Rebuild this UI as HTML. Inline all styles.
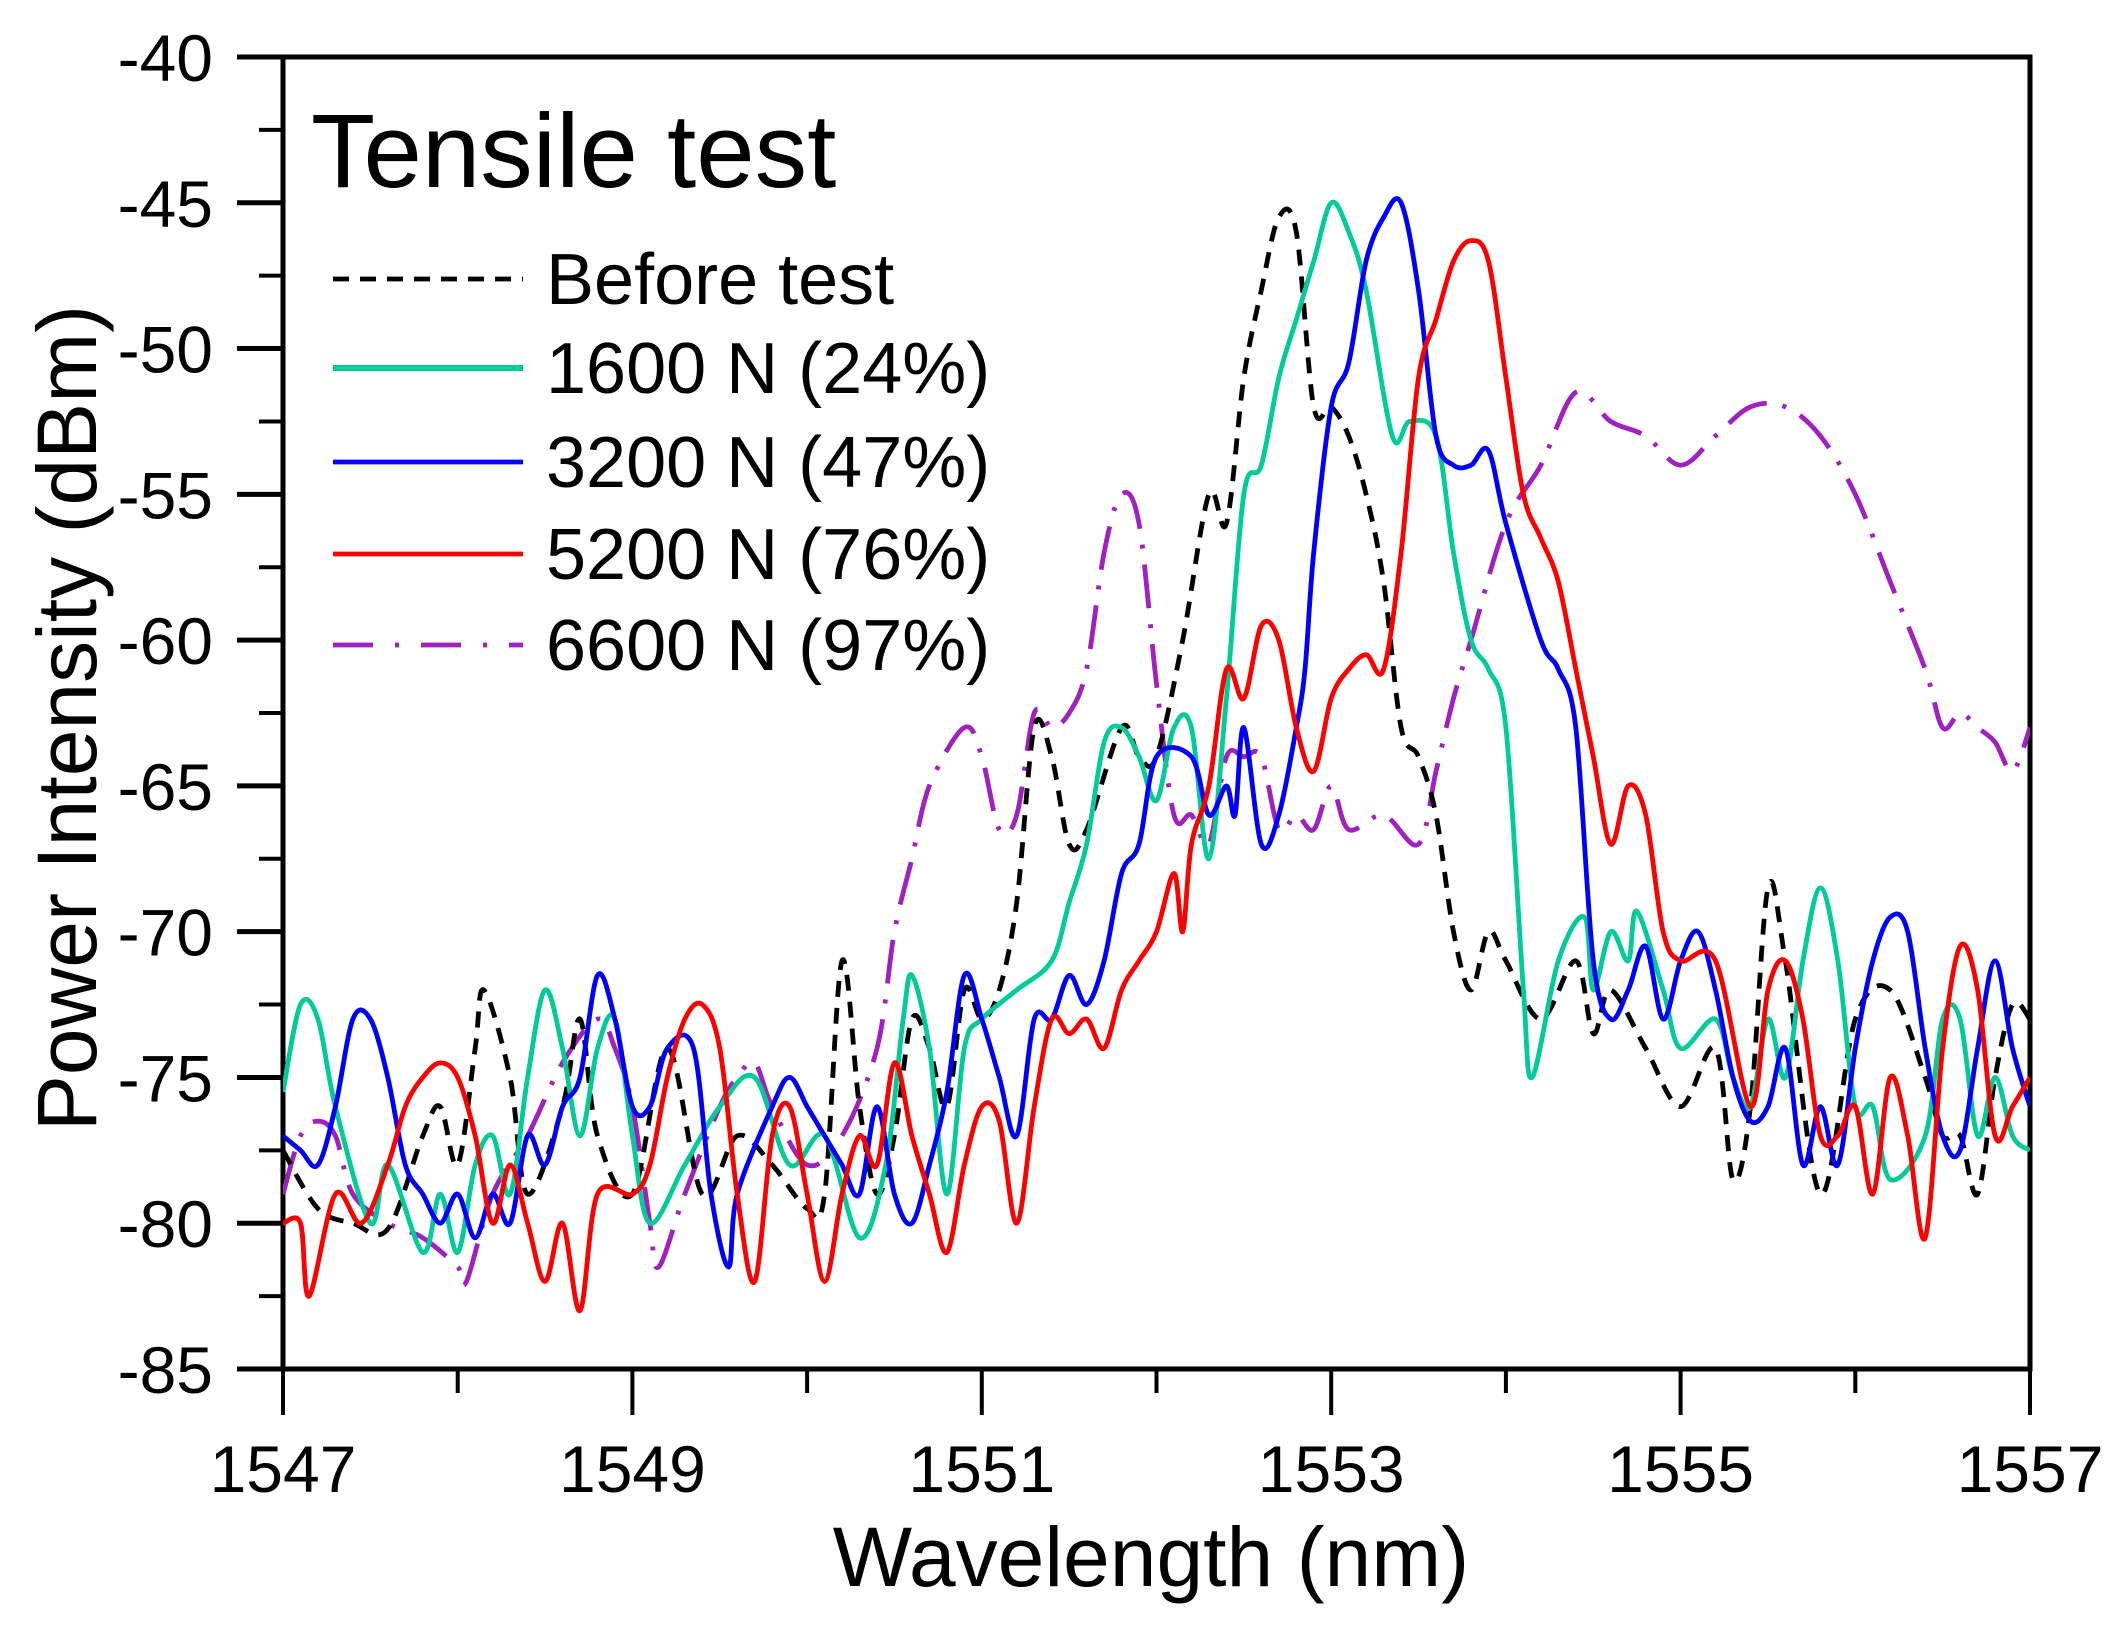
<!DOCTYPE html>
<html><head><meta charset="utf-8"><style>
html,body{margin:0;padding:0;background:#fff}
svg{display:block}
text{font-family:"Liberation Sans",Arial,sans-serif;fill:#000}
</style></head><body>
<svg id="chart" width="2123" height="1627" viewBox="0 0 2123 1627" xmlns="http://www.w3.org/2000/svg">
<g id="axes"></g>
<g id="series"></g>
<g id="legend">
<text x="311" y="187" font-size="105">Tensile test</text>
</g>
<text x="1151" y="1586" font-size="84" text-anchor="middle">Wavelength (nm)</text>
<text transform="translate(96,718) rotate(-90)" font-size="84" text-anchor="middle">Power Intensity (dBm)</text>
</svg>
<script>
const xTicks=[1547,1549,1551,1553,1555,1557];
const xMinor=[1548,1550,1552,1554,1556];
const yTicks=[-40,-45,-50,-55,-60,-65,-70,-75,-80,-85];
const yMinor=[-42.5,-47.5,-52.5,-57.5,-62.5,-67.5,-72.5,-77.5,-82.5];
const seriesNames=["Before test","1600 N (24%)","3200 N (47%)","5200 N (76%)","6600 N (97%)"];
const beforeWl=[1547.0,1547.2,1547.4,1547.6,1547.8,1547.9,1548.0,1548.1,1548.15,1548.3,1548.4,1548.6,1548.7,1548.8,1549.0,1549.2,1549.4,1549.6,1549.8,1550.0,1550.1,1550.2,1550.3,1550.4,1550.5,1550.6,1550.7,1550.8,1550.9,1551.0,1551.1,1551.2,1551.3,1551.4,1551.5,1551.6,1551.8,1551.9,1552.0,1552.15,1552.3,1552.4,1552.5,1552.6,1552.7,1552.8,1552.9,1553.0,1553.1,1553.2,1553.3,1553.4,1553.5,1553.6,1553.7,1553.8,1553.9,1554.0,1554.2,1554.4,1554.5,1554.6,1554.8,1555.0,1555.2,1555.3,1555.4,1555.5,1555.6,1555.8,1556.0,1556.2,1556.4,1556.5,1556.6,1556.7,1556.8,1556.9,1557];
const beforeDb=[-77.5,-79.5,-80,-80.2,-77,-76,-78,-74,-72,-75,-79,-76,-73,-77,-79,-74,-79,-77,-78,-79.5,-79,-71,-76,-79,-77,-73,-74,-76,-72,-73,-72,-69,-63,-64,-67,-66.5,-63,-64,-64,-60,-55,-56,-51,-48,-45.5,-46,-52,-52,-53,-55,-58,-63,-64,-66,-70,-72,-70,-71,-73,-71,-73.5,-72,-74,-76,-74,-78.5,-76,-68.5,-71,-79,-73,-72,-75,-77,-77,-79,-75,-72.5,-73];
const n1600Wl=[1547.0,1547.1,1547.2,1547.3,1547.5,1547.6,1547.8,1547.9,1548.0,1548.1,1548.2,1548.3,1548.4,1548.5,1548.6,1548.7,1548.8,1548.9,1549.0,1549.1,1549.3,1549.5,1549.7,1549.9,1550.1,1550.3,1550.45,1550.55,1550.6,1550.7,1550.8,1550.9,1551.0,1551.2,1551.4,1551.5,1551.6,1551.7,1551.8,1551.9,1552.0,1552.1,1552.2,1552.3,1552.4,1552.5,1552.6,1552.7,1552.8,1552.9,1553.0,1553.1,1553.2,1553.35,1553.45,1553.6,1553.7,1553.8,1553.9,1554.0,1554.1,1554.15,1554.3,1554.45,1554.5,1554.6,1554.7,1554.75,1554.9,1555.0,1555.2,1555.3,1555.4,1555.5,1555.6,1555.7,1555.8,1555.9,1556.0,1556.1,1556.2,1556.4,1556.5,1556.6,1556.7,1556.8,1556.9,1557];
const n1600Db=[-75.5,-72.5,-73,-76,-80,-78,-81,-79,-81,-78,-77,-79,-75,-72,-74,-77,-74,-73,-77,-80,-78,-76,-75,-78,-77,-80.5,-78,-73,-71.5,-74,-79,-74,-73,-72,-71,-69,-67,-63.5,-63,-64,-65.5,-63,-63,-67.5,-62,-55,-54,-51,-49,-47,-45,-46,-48,-53,-52.5,-53,-57,-60,-61,-63,-72,-75,-71,-69.5,-72,-70,-71,-69.3,-72,-74,-73,-75,-76,-73,-75,-71,-68.5,-71,-76,-76,-78.5,-77,-73,-73,-77,-75,-77,-77.5];
const n3200Wl=[1547.0,1547.1,1547.2,1547.3,1547.4,1547.5,1547.6,1547.7,1547.8,1547.9,1548.0,1548.1,1548.2,1548.3,1548.4,1548.5,1548.6,1548.7,1548.8,1548.9,1549.0,1549.1,1549.2,1549.35,1549.45,1549.55,1549.6,1549.8,1549.9,1550.0,1550.1,1550.2,1550.3,1550.4,1550.5,1550.6,1550.7,1550.8,1550.9,1551.0,1551.1,1551.2,1551.3,1551.4,1551.5,1551.6,1551.7,1551.8,1551.9,1552.0,1552.2,1552.3,1552.4,1552.45,1552.5,1552.6,1552.7,1552.8,1552.85,1552.9,1553.0,1553.1,1553.2,1553.3,1553.4,1553.5,1553.6,1553.7,1553.8,1553.9,1554.0,1554.2,1554.3,1554.4,1554.5,1554.6,1554.7,1554.8,1554.9,1555.0,1555.1,1555.2,1555.3,1555.4,1555.5,1555.6,1555.7,1555.8,1555.9,1556.0,1556.1,1556.2,1556.3,1556.4,1556.5,1556.6,1556.7,1556.8,1556.9,1557];
const n3200Db=[-77,-77.5,-78,-76,-73,-73,-75,-78,-79,-80,-79,-80.5,-79,-80,-77,-78,-76,-75,-71.5,-73,-76,-76,-74,-74,-79,-81.5,-79,-76,-75,-76,-77,-78,-79,-76,-79,-80,-78,-75.5,-71.5,-73,-75,-77,-73,-73,-71.5,-72.5,-71,-68,-67,-64,-64,-66,-65,-66,-63,-67,-66,-63,-61,-57,-52,-50.5,-47,-45.5,-45,-48,-53,-54,-54,-53.5,-56,-60,-61,-63,-71,-73,-72,-70.5,-73,-71,-70,-72,-75,-76.5,-76,-74,-78,-76,-78,-74,-71,-69.5,-70,-74,-77,-77.5,-74,-71,-74,-76];
const n5200Wl=[1547.0,1547.1,1547.15,1547.3,1547.45,1547.6,1547.7,1547.8,1547.9,1548.0,1548.1,1548.2,1548.3,1548.4,1548.5,1548.6,1548.7,1548.8,1549.0,1549.1,1549.2,1549.3,1549.4,1549.5,1549.6,1549.7,1549.8,1549.9,1550.0,1550.1,1550.2,1550.3,1550.4,1550.5,1550.6,1550.7,1550.8,1550.9,1551.0,1551.1,1551.2,1551.3,1551.4,1551.5,1551.6,1551.7,1551.8,1551.9,1552.0,1552.1,1552.15,1552.2,1552.3,1552.4,1552.5,1552.6,1552.7,1552.8,1552.9,1553.0,1553.1,1553.2,1553.3,1553.4,1553.5,1553.6,1553.7,1553.8,1553.9,1554.0,1554.1,1554.2,1554.3,1554.4,1554.5,1554.6,1554.7,1554.8,1554.9,1555.0,1555.2,1555.4,1555.5,1555.6,1555.7,1555.8,1555.9,1556.0,1556.1,1556.2,1556.3,1556.4,1556.5,1556.6,1556.7,1556.8,1556.9,1557];
const n5200Db=[-80,-80,-82.5,-79,-80,-78,-76,-75,-74.5,-75,-77,-80,-78,-80,-82,-80,-83,-79,-79,-78,-75,-73,-72.5,-74,-79,-82,-77,-76,-79,-82,-79,-77,-78,-74.5,-77,-79,-81,-78,-76,-76.5,-80,-76,-73,-73.5,-73,-74,-72,-71,-70,-68,-70,-67,-65,-61,-62,-59.5,-60,-63,-64.5,-62,-61,-60.5,-61,-57,-51,-49,-47,-46.3,-47,-51,-55,-56.5,-58,-61,-64,-67,-65,-66,-70,-71,-71,-76,-72,-71,-73,-77,-77,-76,-79,-75,-77,-80.5,-74,-70.5,-72,-77,-76,-75];
const n6600Wl=[1547.0,1547.1,1547.2,1547.3,1547.4,1547.6,1547.8,1548.0,1548.05,1548.2,1548.4,1548.6,1548.8,1548.9,1549.0,1549.1,1549.15,1549.3,1549.5,1549.6,1549.7,1549.8,1550.0,1550.2,1550.4,1550.5,1550.6,1550.7,1550.9,1551.0,1551.1,1551.2,1551.3,1551.4,1551.5,1551.6,1551.7,1551.8,1551.9,1552.0,1552.1,1552.2,1552.3,1552.4,1552.5,1552.6,1552.7,1552.8,1552.9,1553.0,1553.1,1553.3,1553.5,1553.6,1553.7,1553.8,1554.0,1554.2,1554.4,1554.6,1554.8,1555.0,1555.2,1555.4,1555.6,1555.8,1556.0,1556.2,1556.4,1556.5,1556.6,1556.7,1556.8,1556.9,1557];
const n6600Db=[-79,-77,-76.5,-77,-79,-80,-80.5,-81.5,-82,-79,-77,-74.5,-73,-74,-76,-80,-81.5,-79,-76,-75,-74.5,-76,-78,-77,-74,-70,-67.5,-65,-63,-64,-66.5,-66,-62.5,-63,-62.5,-61,-57,-55,-56,-61.5,-66,-66,-67,-64,-64,-64,-66.5,-66,-66.5,-65,-66.5,-66,-67,-64.5,-62,-60,-56,-54,-51.5,-52.5,-53,-54,-53,-52,-52,-53,-55,-58,-61,-63,-62.5,-63,-63.5,-64.5,-63];
const seriesColors=["#000000","#00CC99","#0000FF","#FF0000","#A020C0"];
const seriesDash=["16 11","","","","44 16 4 16"];

const L=283,R=2030,T=57,B=1369;
function xs(v){return L+(v-1547)/(1557-1547)*(R-L);}
function ys(v){return T+(-40-v)/(-40+85)*(B-T);}
const NS="http://www.w3.org/2000/svg";
function mk(tag,attrs,parent){const e=document.createElementNS(NS,tag);for(const k in attrs)e.setAttribute(k,attrs[k]);parent.appendChild(e);return e;}
const ax=document.getElementById('axes');
const sg=document.getElementById('series');
const lg=document.getElementById('legend');

function smooth(px,py){
  let d="M"+px[0].toFixed(1)+","+py[0].toFixed(1);
  for(let i=0;i<px.length-1;i++){
    const x0=px[Math.max(0,i-1)],y0=py[Math.max(0,i-1)];
    const x1=px[i],y1=py[i],x2=px[i+1],y2=py[i+1];
    const x3=px[Math.min(px.length-1,i+2)],y3=py[Math.min(px.length-1,i+2)];
    const c1x=x1+(x2-x0)/6,c1y=y1+(y2-y0)/6,c2x=x2-(x3-x1)/6,c2y=y2-(y3-y1)/6;
    d+=" C"+c1x.toFixed(1)+","+c1y.toFixed(1)+" "+c2x.toFixed(1)+","+c2y.toFixed(1)+" "+x2.toFixed(1)+","+y2.toFixed(1);
  }
  return d;
}
const wls=[beforeWl,n1600Wl,n3200Wl,n5200Wl,n6600Wl];
const dbs=[beforeDb,n1600Db,n3200Db,n5200Db,n6600Db];
const sNames=["series-before-test","series-1600n","series-3200n","series-5200n","series-6600n"];
const drawOrder=[4,0,1,2,3];
const clip=mk('clipPath',{id:'pc'},ax);
mk('rect',{x:L,y:T,width:R-L,height:B-T},clip);
drawOrder.forEach(i=>{
  const p=mk('path',{d:smooth(wls[i].map(xs),dbs[i].map(ys)),fill:'none',stroke:seriesColors[i],'stroke-width':4.8,'stroke-linejoin':'round','clip-path':'url(#pc)'},sg);
  if(seriesDash[i])p.setAttribute('stroke-dasharray',seriesDash[i]);
  
  
});

const fr=mk('rect',{x:L,y:T,width:R-L,height:B-T,fill:'none',stroke:'#000','stroke-width':5},ax);


yTicks.forEach(v=>{
  const y=ys(v);
  const t=mk('line',{x1:L-46,x2:L,y1:y,y2:y,stroke:'#000','stroke-width':5},ax);
  
  
  const lb=mk('text',{x:213,y:y+24,'font-size':66,'text-anchor':'end'},ax);
  lb.textContent=String(v);
  
  
});
yMinor.forEach(v=>{
  const y=ys(v);
  const t=mk('line',{x1:L-24,x2:L,y1:y,y2:y,stroke:'#000','stroke-width':4},ax);
  
  
});
xTicks.forEach(v=>{
  const x=xs(v);
  const t=mk('line',{x1:x,x2:x,y1:B,y2:B+46,stroke:'#000','stroke-width':4},ax);
  
  
  const lb=mk('text',{x:x,y:1492,'font-size':66,'text-anchor':'middle'},ax);
  lb.textContent=String(v);
  
  
});
xMinor.forEach(v=>{
  const x=xs(v);
  const t=mk('line',{x1:x,x2:x,y1:B,y2:B+24,stroke:'#000','stroke-width':4},ax);
  
  
});
const rowsY=[279,368,462,554,645];
const lNames=["legend-before-test","legend-1600n","legend-3200n","legend-5200n","legend-6600n"];
for(let i=0;i<5;i++){
  const g=mk('g',{},lg);
  
  
  const ln=mk('line',{x1:333,x2:523,y1:rowsY[i],y2:rowsY[i],stroke:seriesColors[i],'stroke-width':i==1?6:4.8},g);
  if(seriesDash[i])ln.setAttribute('stroke-dasharray',i==4?"40 22 4 22":"16 11");
  
  
  const tx=mk('text',{x:546,y:rowsY[i]+25,'font-size':72},g);
  tx.textContent=seriesNames[i];
  
  
}
</script>
</body></html>
